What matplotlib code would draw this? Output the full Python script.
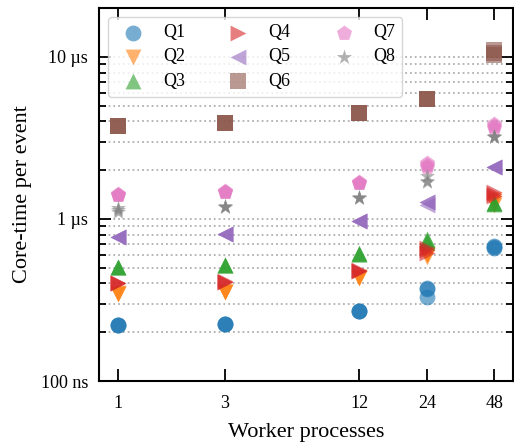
import matplotlib
matplotlib.use('Agg')
import matplotlib.pyplot as plt
from matplotlib import ticker

plt.rcParams['font.family'] = ['Liberation Serif', 'DejaVu Serif']
plt.rcParams['axes.linewidth'] = 1.5

workers = [1, 3, 12, 24, 48]
queries = ['Q1', 'Q2', 'Q3', 'Q4', 'Q5', 'Q6', 'Q7', 'Q8']
markers = ['o', 'v', '^', '>', '<', 's', 'p', '*']

# core-time per event in microseconds, three runs per worker count
q1 = [[0.222, 0.222, 0.223], [0.224, 0.225, 0.225], [0.270, 0.270, 0.272],
      [0.330, 0.370, 0.375], [0.660, 0.680, 0.670]]
q2 = [[0.345, 0.350, 0.345], [0.355, 0.355, 0.356], [0.430, 0.440, 0.430],
      [0.580, 0.610, 0.600], [1.22, 1.30, 1.25]]
q3 = [[0.505, 0.505, 0.506], [0.520, 0.520, 0.521], [0.610, 0.610, 0.612],
      [0.720, 0.750, 0.740], [1.24, 1.25, 1.26]]
q4 = [[0.400, 0.400, 0.402], [0.410, 0.410, 0.412], [0.480, 0.480, 0.482],
      [0.620, 0.660, 0.640], [1.38, 1.47, 1.42]]
q5 = [[0.775, 0.775, 0.777], [0.810, 0.810, 0.812], [0.970, 0.970, 0.972],
      [1.22, 1.28, 1.27], [2.09, 2.09, 2.10]]
q6 = [[3.75, 3.75, 3.76], [3.90, 3.90, 3.91], [4.50, 4.50, 4.52],
      [5.50, 5.50, 5.52], [10.3, 11.0, 10.6]]
q7 = [[1.41, 1.41, 1.42], [1.47, 1.47, 1.48], [1.67, 1.67, 1.68],
      [2.10, 2.20, 2.15], [3.65, 3.85, 3.75]]
q8 = [[1.14, 1.10, 1.16], [1.19, 1.19, 1.20], [1.35, 1.35, 1.36],
      [1.69, 1.85, 1.72], [3.20, 3.25, 3.20]]
all_data = [q1, q2, q3, q4, q5, q6, q7, q8]

fig = plt.figure(figsize=(5.14, 4.44), dpi=100)
ax = fig.add_axes([99 / 514, 63 / 444, 414 / 514, 373 / 444])

for name, m, runs in zip(queries, markers, all_data):
    xs, ys = [], []
    for w, vals in zip(workers, runs):
        for v in vals:
            xs.append(w)
            ys.append(v * 1e-6)
    ax.scatter(xs, ys, s=130, marker=m, alpha=0.6, linewidths=0,
               label=name, zorder=3)

ax.set_xscale('log')
ax.set_yscale('log')
ax.set_ylim(1e-7, 2e-5)

ax.xaxis.set_major_locator(ticker.FixedLocator(workers))
ax.xaxis.set_major_formatter(ticker.FixedFormatter([str(w) for w in workers]))
ax.xaxis.set_minor_locator(ticker.NullLocator())

ax.yaxis.set_major_locator(ticker.FixedLocator([1e-7, 1e-6, 1e-5]))
ax.yaxis.set_major_formatter(ticker.FixedFormatter(['100 ns', '1 \u00b5s', '10 \u00b5s']))
ax.yaxis.set_minor_locator(ticker.LogLocator(base=10, subs=range(2, 10)))
ax.yaxis.set_minor_formatter(ticker.NullFormatter())

ax.tick_params(which='both', direction='in', top=True, right=True, labelsize=13)
ax.tick_params(which='major', length=8.5, width=1.3, pad=8)
ax.tick_params(which='minor', length=5, width=1.3)
ax.tick_params(axis='x', which='major', pad=10)

ax.grid(axis='y', which='both', linestyle=':', color='#b0b0b0', linewidth=1.3, zorder=0)
ax.set_axisbelow(True)

ax.set_xlabel('Worker processes', fontsize=16, labelpad=8)
ax.set_ylabel('Core-time per event', fontsize=16, labelpad=6)

ax.legend(loc='upper left', ncol=3, fontsize=13, labelspacing=0.4,
          handletextpad=0.65, columnspacing=1.95)

fig.savefig('out.png', dpi=100)
